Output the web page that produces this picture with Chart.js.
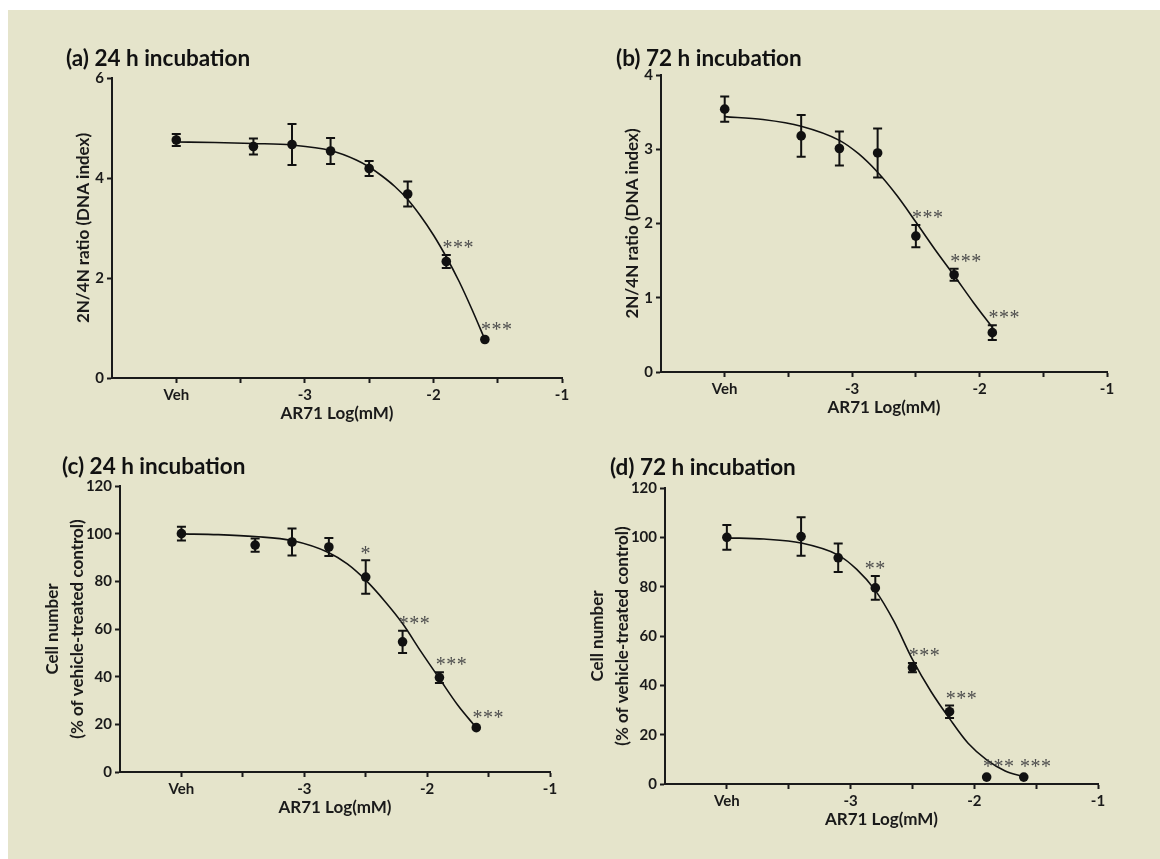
<!DOCTYPE html>
<html>
<head>
<meta charset="utf-8">
<script src="https://cdn.jsdelivr.net/npm/chart.js@4.4.1/dist/chart.umd.min.js"></script>
<style>
    body { margin: 0; background: #fff; width: 1160px; height: 859px; overflow: hidden; }
    #bg { position: absolute; left: 8px; top: 10px; right: 0; bottom: 0; background: #e5e4cb; }
    .box { position: absolute; }
    .ttl { position: absolute; font: bold 22.5px Lato, sans-serif; line-height: 24px; color: #111; white-space: nowrap; }
</style>
</head>
<body>
<div id="bg"></div>

<div class="box" style="left:12px;top:58px;width:575px;height:382px"><canvas id="chartA"></canvas></div>
<div class="box" style="left:561px;top:55px;width:571px;height:379px"><canvas id="chartB"></canvas></div>
<div class="box" style="left:20px;top:466px;width:555px;height:368px"><canvas id="chartC"></canvas></div>
<div class="box" style="left:565px;top:468px;width:558px;height:378px"><canvas id="chartD"></canvas></div>

<div class="ttl" style="left:66px;top:46px">(a) 24 h incubation</div>
<div class="ttl" style="left:616px;top:46px">(b) 72 h incubation</div>
<div class="ttl" style="left:62px;top:454px">(c) 24 h incubation</div>
<div class="ttl" style="left:610px;top:455px">(d) 72 h incubation</div>

<script>
/* ================= DATA ================= */
const xTickValues = [-4, -3.5, -3, -2.5, -2, -1.5, -1];
const xTickLabels = ["Veh", "", "-3", "", "-2", "", "-1"];
const doseLog = [-4, -3.4, -3.1, -2.8, -2.5, -2.2, -1.9, -1.6];

// (a) 24 h, DNA index
const meanA = [4.76, 4.63, 4.67, 4.54, 4.19, 3.68, 2.33, 0.77];
const errA = [0.12, 0.16, 0.41, 0.26, 0.15, 0.25, 0.13, 0];
const sigA = ["", "", "", "", "", "", "***", "***"];
const fitXA = [-4, -3.7, -3.4, -3.1, -2.8, -2.6, -2.5, -2.4, -2.3, -2.2, -2.1, -2.0, -1.9, -1.8, -1.7, -1.6];
const fitYA = [4.72, 4.71, 4.69, 4.66, 4.55, 4.36, 4.22, 4.04, 3.83, 3.57, 3.24, 2.86, 2.42, 1.93, 1.37, 0.77];

// (b) 72 h, DNA index
const meanB = [3.54, 3.18, 3.01, 2.95, 1.83, 1.31, 0.53];
const errB = [0.17, 0.28, 0.23, 0.33, 0.15, 0.08, 0.10];
const sigB = ["", "", "", "", "***", "***", "***"];
const fitXB = [-4, -3.7, -3.4, -3.1, -2.95, -2.8, -2.65, -2.5, -2.35, -2.2, -2.05, -1.9];
const fitYB = [3.44, 3.40, 3.31, 3.12, 2.94, 2.69, 2.38, 2.02, 1.65, 1.30, 0.94, 0.60];

// (c) 24 h, cell number
const meanC = [100, 95.2, 96.5, 94.4, 81.8, 54.6, 39.6, 18.6];
const errC = [2.9, 2.8, 5.7, 3.8, 7.0, 4.7, 2.3, 0];
const sigC = ["", "", "", "", "*", "***", "***", "***"];
const fitXC = [-4, -3.7, -3.4, -3.1, -2.8, -2.65, -2.5, -2.35, -2.2, -2.05, -1.9, -1.75, -1.6];
const fitYC = [99.9, 99.6, 98.8, 97.1, 92.0, 87.3, 80.5, 72.0, 62.3, 50.5, 39.2, 28.0, 18.6];

// (d) 72 h, cell number
const meanD = [100, 100.3, 91.7, 79.5, 47.2, 29.3, 2.8, 2.8];
const errD = [5.0, 7.8, 5.8, 4.8, 1.9, 2.5, 0, 0];
const sigD = ["", "", "", "**", "***", "***", "***", "***"];
const fitXD = [-4, -3.7, -3.4, -3.1, -2.95, -2.8, -2.65, -2.5, -2.35, -2.2, -2.05, -1.9, -1.75, -1.6];
const fitYD = [99.8, 99.3, 97.7, 92.8, 87.0, 78.5, 66.0, 50.5, 37.5, 26.5, 16.5, 9.8, 5.3, 3.0];

/* ================= ERROR BARS + STARS ================= */
const errbarPlugin = {
    id: "errbars",
    afterDatasetsDraw(chart, args, opts) {
        const { ctx, scales: { x, y } } = chart;
        ctx.save();
        ctx.strokeStyle = "#111";
        ctx.lineWidth = 2;
        opts.xs.forEach((xv, i) => {
            const px = x.getPixelForValue(xv);
            const e = opts.err[i];
            if (e > 0) {
                const yt = y.getPixelForValue(opts.mean[i] + e);
                const yb = y.getPixelForValue(opts.mean[i] - e);
                ctx.beginPath();
                ctx.moveTo(px, yt); ctx.lineTo(px, yb);
                ctx.moveTo(px - 4.5, yt); ctx.lineTo(px + 4.5, yt);
                ctx.moveTo(px - 4.5, yb); ctx.lineTo(px + 4.5, yb);
                ctx.stroke();
            }
            const s = opts.sig[i];
            if (s) {
                const top = Math.min(y.getPixelForValue(opts.mean[i] + e), y.getPixelForValue(opts.mean[i]) - 3);
                ctx.fillStyle = "#4d4d4d";
                ctx.font = "20px 'Liberation Serif', serif";
                ctx.letterSpacing = "0.5px";
                ctx.textAlign = "center";
                ctx.textBaseline = "middle";
                const dx = s.length === 3 ? 12 : 0;
                ctx.fillText(s, px + dx, top - 11 + 5);
            }
        });
        ctx.restore();
    }
};

const tickFont = { family: "Lato", size: 15, weight: "bold" };
const titleFont = { family: "Lato", size: 17, weight: "bold" };

function makeChart(id, xs, mean, err, sig, fitX, fitY, yMax, yStep, yTitle, yPad, yLine) {
    const points = xs.map((v, i) => ({ x: v, y: mean[i] }));
    const fit = fitX.map((v, i) => ({ x: v, y: fitY[i] }));

    return new Chart(document.getElementById(id), {
        type: "scatter",
        data: {
            datasets: [
                {
                    data: fit,
                    showLine: true,
                    borderColor: "#111",
                    borderWidth: 1.6,
                    pointRadius: 0,
                    cubicInterpolationMode: "monotone",
                    fill: false
                },
                {
                    data: points,
                    pointRadius: 4.8,
                    pointBackgroundColor: "#111",
                    pointBorderColor: "#111",
                    pointBorderWidth: 0,
                    showLine: false
                }
            ]
        },
        options: {
            responsive: true,
            maintainAspectRatio: false,
            animation: false,
            layout: { padding: { left: 0, top: 20, right: 25, bottom: 0 } },
            plugins: {
                legend: { display: false },
                tooltip: { enabled: false },
                errbars: { xs, mean, err, sig }
            },
            scales: {
                x: {
                    type: "linear",
                    min: -4.5,
                    max: -1,
                    afterBuildTicks: s => { s.ticks = xTickValues.map(v => ({ value: v })); },
                    afterFit: s => { s.height = 62; },
                    ticks: {
                        autoSkip: false,
                        maxRotation: 0,
                        padding: 3,
                        color: "#1a1a1a",
                        font: tickFont,
                        callback: v => xTickLabels[xTickValues.indexOf(v)]
                    },
                    grid: { drawOnChartArea: false, drawTicks: true, tickLength: 5, tickWidth: 2, tickColor: "#1a1a1a" },
                    border: { display: true, color: "#1a1a1a", width: 2 },
                    title: { display: true, text: "AR71 Log(mM)", color: "#1a1a1a", font: titleFont, padding: { top: 0, bottom: 16 } }
                },
                y: {
                    min: 0,
                    max: yMax,
                    afterFit: s => { s.width = 100; },
                    ticks: { stepSize: yStep, padding: 3, color: "#1a1a1a", font: tickFont },
                    grid: { drawOnChartArea: false, drawTicks: true, tickLength: 5, tickWidth: 2, tickColor: "#1a1a1a" },
                    border: { display: true, color: "#1a1a1a", width: 2 },
                    title: {
                        display: true,
                        text: yTitle,
                        color: "#1a1a1a",
                        font: { ...titleFont, lineHeight: yLine },
                        padding: { top: yPad, bottom: 0 }
                    }
                }
            }
        },
        plugins: [errbarPlugin]
    });
}

const ratioTitle = "2N/4N ratio (DNA index)";
const cellTitle = ["Cell number", "(% of vehicle-treated control)"];

makeChart("chartA", doseLog, meanA, errA, sigA, fitXA, fitYA, 6, 2, ratioTitle, 61, 1.2);
makeChart("chartB", doseLog.slice(0, 7), meanB, errB, sigB, fitXB, fitYB, 4, 1, ratioTitle, 61, 1.2);
makeChart("chartC", doseLog, meanC, errC, sigC, fitXC, fitYC, 120, 20, cellTitle, 20, "25px");
makeChart("chartD", doseLog, meanD, errD, sigD, fitXD, fitYD, 120, 20, cellTitle, 20, "25px");
</script>
</body>
</html>
